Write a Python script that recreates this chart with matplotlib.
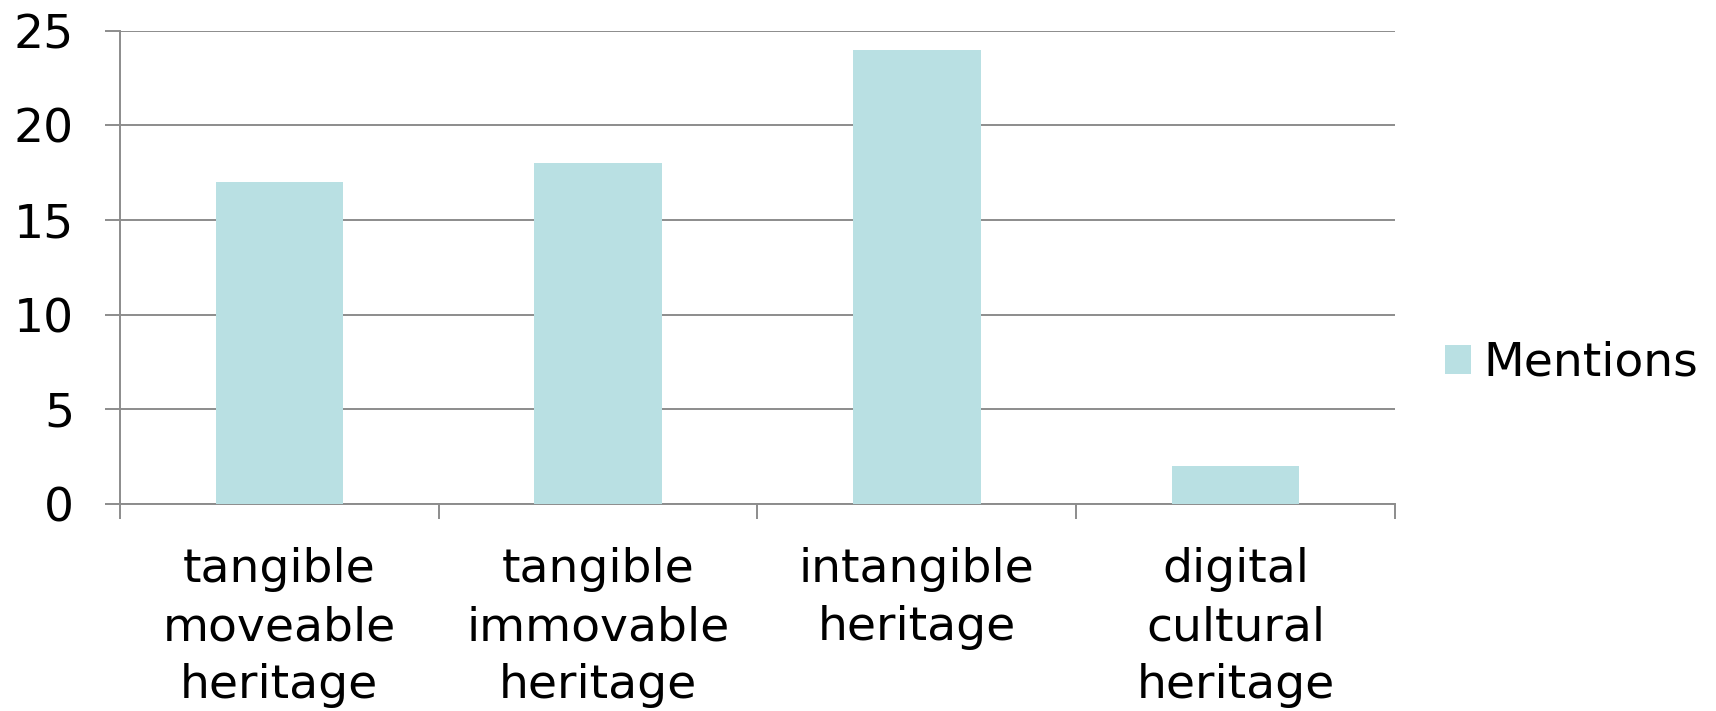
import numpy as np
import matplotlib
matplotlib.use('Agg')
import matplotlib.pyplot as plt

categories = ['tangible\nmoveable\nheritage', 'tangible\nimmovable\nheritage',
              'intangible\nheritage', 'digital\ncultural\nheritage']
mentions = [17, 18, 24, 2]
yticks = [0, 5, 10, 15, 20, 25]

bar_color = '#B9E0E3'
grid_color = '#8C8C8C'

plt.rcParams['font.family'] = ['DejaVu Sans']
fig = plt.figure(figsize=(17.16, 7.11), dpi=100)
ax = fig.add_axes([0.0699, 0.291, 0.743, 0.666])

x = np.arange(len(categories))
ax.bar(x, mentions, width=0.4, color=bar_color, label='Mentions', zorder=3)

ax.set_xlim(-0.5, len(categories) - 0.5)
ax.set_ylim(0, 25)
ax.set_yticks(yticks)
ax.set_xticks(x)
ax.set_xticklabels(categories, fontsize=34, linespacing=1.37)
ax.set_xticks(np.arange(len(categories) + 1) - 0.5, minor=True)
ax.tick_params(axis='x', which='major', length=0, pad=31)
ax.tick_params(axis='x', which='minor', length=11, width=1.4, color=grid_color)
ax.tick_params(axis='y', labelsize=34, length=11, width=1.4, color=grid_color, pad=22)

ax.grid(axis='y', color=grid_color, linewidth=1.4, zorder=0)
for s in ['top', 'right']:
    ax.spines[s].set_visible(False)
for s in ['left', 'bottom']:
    ax.spines[s].set_color(grid_color)
    ax.spines[s].set_linewidth(1.4)

fig.legend(loc='center left', bbox_to_anchor=(0.842, 0.489), frameon=False,
           fontsize=34, handlelength=0.56, handleheight=0.56, handletextpad=0.25,
           borderpad=0, borderaxespad=0)

fig.savefig('out.png', dpi=100)
